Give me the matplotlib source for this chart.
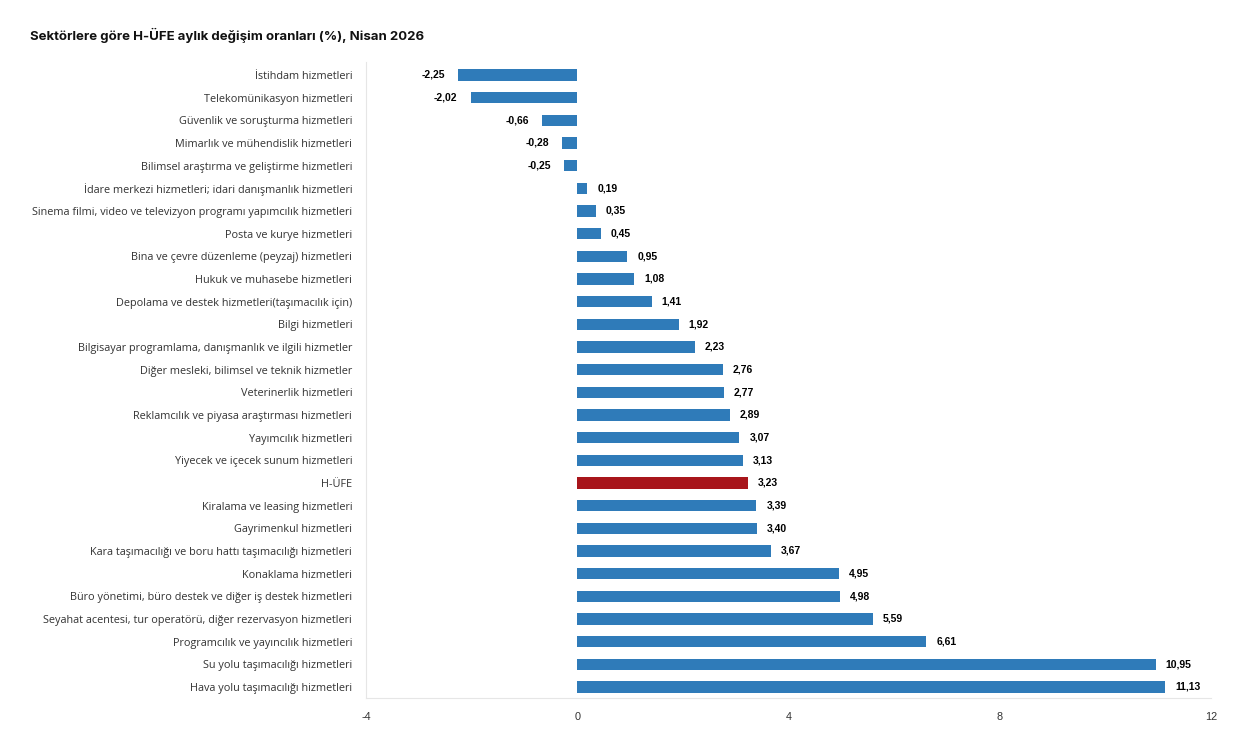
import matplotlib.pyplot as plt

categories = [
    "İstihdam hizmetleri",
    "Telekomünikasyon hizmetleri",
    "Güvenlik ve soruşturma hizmetleri",
    "Mimarlık ve mühendislik hizmetleri",
    "Bilimsel araştırma ve geliştirme hizmetleri",
    "İdare merkezi hizmetleri; idari danışmanlık hizmetleri",
    "Sinema filmi, video ve televizyon programı yapımcılık hizmetleri",
    "Posta ve kurye hizmetleri",
    "Bina ve çevre düzenleme (peyzaj) hizmetleri",
    "Hukuk ve muhasebe hizmetleri",
    "Depolama ve destek hizmetleri(taşımacılık için)",
    "Bilgi hizmetleri",
    "Bilgisayar programlama, danışmanlık ve ilgili hizmetler",
    "Diğer mesleki, bilimsel ve teknik hizmetler",
    "Veterinerlik hizmetleri",
    "Reklamcılık ve piyasa araştırması hizmetleri",
    "Yayımcılık hizmetleri",
    "Yiyecek ve içecek sunum hizmetleri",
    "H-ÜFE",
    "Kiralama ve leasing hizmetleri",
    "Gayrimenkul hizmetleri",
    "Kara taşımacılığı ve boru hattı taşımacılığı hizmetleri",
    "Konaklama hizmetleri",
    "Büro yönetimi, büro destek ve diğer iş destek hizmetleri",
    "Seyahat acentesi, tur operatörü, diğer rezervasyon hizmetleri",
    "Programcılık ve yayıncılık hizmetleri",
    "Su yolu taşımacılığı hizmetleri",
    "Hava yolu taşımacılığı hizmetleri",
]
values = [-2.25, -2.02, -0.66, -0.28, -0.25, 0.19, 0.35, 0.45, 0.95, 1.08,
          1.41, 1.92, 2.23, 2.76, 2.77, 2.89, 3.07, 3.13, 3.23, 3.39,
          3.40, 3.67, 4.95, 4.98, 5.59, 6.61, 10.95, 11.13]
x_ticks = [-4, 0, 4, 8, 12]

blue = "#2f7bb9"
red = "#a8151b"
colors = [red if c == "H-ÜFE" else blue for c in categories]

fig = plt.figure(figsize=(12.42, 7.45), dpi=100)
ax = fig.add_axes([0.2947, 0.0631, 0.6804, 0.8537])

pos = list(range(len(categories)))
ax.barh(pos, values, height=0.5, color=colors)

# etiketler
for y, v in zip(pos, values):
    txt = f"{v:.2f}".replace(".", ",")
    if v < 0:
        ax.text(v - 0.25, y, txt, ha="right", va="center", fontsize=7.5,
                fontweight="bold", family="Liberation Sans")
    else:
        ax.text(v + 0.19, y, txt, ha="left", va="center", fontsize=7.5,
                fontweight="bold", family="Liberation Sans")

ax.set_ylim(27.485, -0.573)
ax.set_xlim(-4, 12)
ax.set_yticks(pos)
ax.set_yticklabels(categories, fontsize=7.8, family="Open Sans", color="#333333")
ax.set_xticks(x_ticks)
ax.set_xticklabels([str(t) for t in x_ticks], fontsize=7.8, family="Liberation Sans", color="#333333")
ax.tick_params(length=0)
ax.tick_params(axis="y", pad=10)
ax.tick_params(axis="x", pad=10)

for s in ["top", "right"]:
    ax.spines[s].set_visible(False)
ax.spines["left"].set_color("#e6e6e6")
ax.spines["bottom"].set_color("#e6e6e6")

fig.text(0.024, 0.953, "Sektörlere göre H-ÜFE aylık değişim oranları (%), Nisan 2026",
         fontsize=9.5, fontweight="bold", family="Inter", va="center", color="#111111")

fig.savefig("out.png", dpi=100)
